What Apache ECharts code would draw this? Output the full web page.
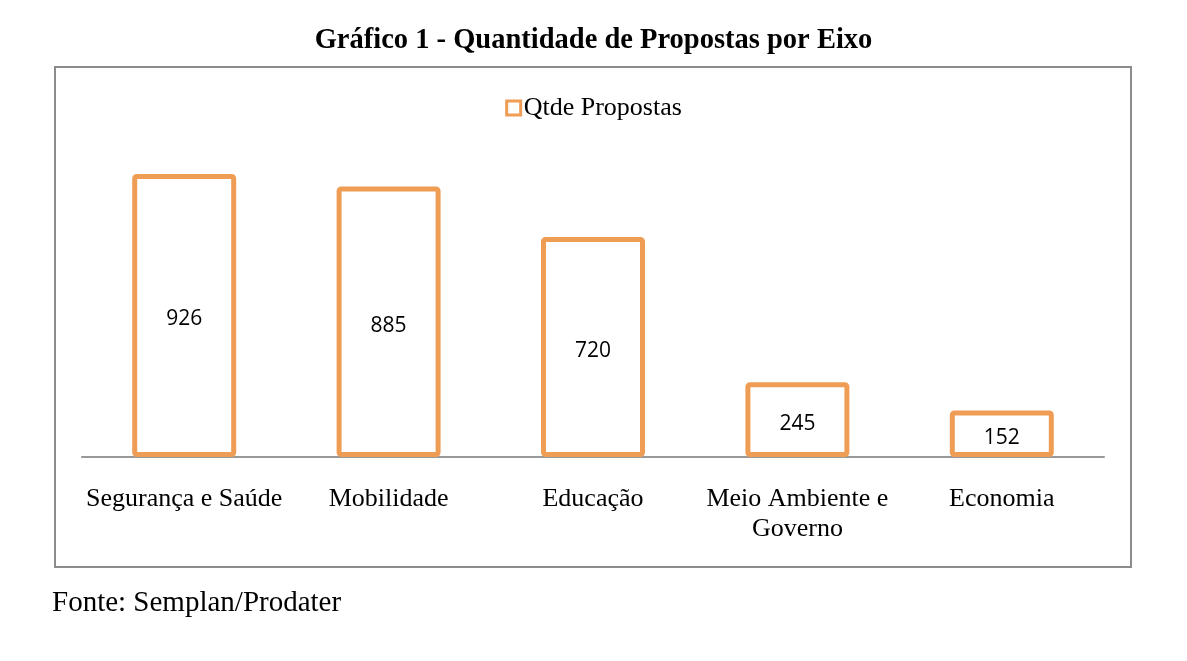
<!DOCTYPE html>
<html>
<head>
	<meta charset="utf-8">
	<title>Gráfico 1</title>
	<script src="https://cdn.jsdelivr.net/npm/echarts@6/dist/echarts.min.js"></script>
	<style>
		html, body { margin: 0; padding: 0; background: #fff; }
		#chart { width: 1187px; height: 661px; }
	</style>
</head>
<body>
<div id="chart"></div>
<script type="text/javascript">
// dados
var eixos = ['Segurança e Saúde', 'Mobilidade', 'Educação', 'Meio Ambiente e\nGoverno', 'Economia'];
var propostas = [926, 885, 720, 245, 152];
var serieNome = 'Qtde Propostas';

var serif = '"Liberation Serif", "DejaVu Serif", serif';
var laranja = '#EF9D55';

var myChart = echarts.init(document.getElementById('chart'));
var option = {
	animation: false,
	title: {
		text: 'Gráfico 1 - Quantidade de Propostas por Eixo',
		left: 'center',
		top: 21,
		textStyle: { fontFamily: serif, fontSize: 28.5, fontWeight: 'bold', color: '#000' }
	},
	legend: {
		data: [serieNome],
		top: 90,
		left: 'center',
		itemWidth: 14,
		itemHeight: 14,
		itemGap: 4,
		icon: 'rect',
		itemStyle: { color: '#fff', borderColor: laranja, borderWidth: 3 },
		textStyle: { fontFamily: serif, fontSize: 26, color: '#000', padding: [0, 0, 0, -2] }
	},
	grid: { left: 82, right: 83, top: 151.4, bottom: 204 },
	xAxis: {
		type: 'category',
		data: eixos,
		axisLine: { lineStyle: { color: '#999', width: 2 } },
		axisTick: { show: false },
		axisLabel: {
			interval: 0,
			margin: 27,
			fontFamily: serif,
			fontSize: 26,
			color: '#000',
			lineHeight: 30
		}
	},
	yAxis: {
		type: 'value',
		min: 0,
		max: 1000,
		show: false,
		splitLine: { show: false }
	},
	series: [{
		name: serieNome,
		type: 'bar',
		data: propostas,
		barWidth: 104,
		itemStyle: {
			color: '#fff',
			borderColor: laranja,
			borderWidth: 5,
			borderRadius: 2
		},
		label: {
			show: true,
			position: 'inside',
			offset: [0, 4],
			fontFamily: '"Open Sans", "Noto Sans", sans-serif',
			fontSize: 21,
			color: '#000'
		}
	}],
	graphic: [
		{
			type: 'rect',
			shape: { x: 55, y: 67, width: 1076, height: 500 },
			style: { fill: 'none', stroke: '#8c8c8c', lineWidth: 2 },
			silent: true
		},
		{
			type: 'text',
			left: 52,
			top: 589,
			style: { text: 'Fonte: Semplan/Prodater', font: '29px ' + serif, fill: '#000' }
		}
	]
};
myChart.setOption(option);
</script>
</body>
</html>
